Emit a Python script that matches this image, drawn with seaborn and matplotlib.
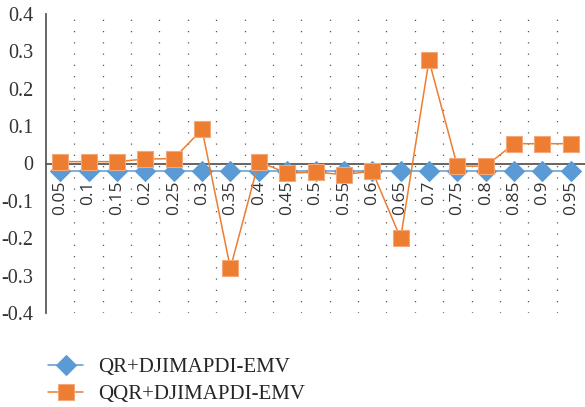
import matplotlib
matplotlib.use("Agg")
import matplotlib.pyplot as plt
import seaborn as sns
import numpy as np
import pandas as pd

# quantile levels (category labels)
quantiles = ["0.05", "0.1", "0.15", "0.2", "0.25", "0.3", "0.35", "0.4", "0.45", "0.5",
             "0.55", "0.6", "0.65", "0.7", "0.75", "0.8", "0.85", "0.9", "0.95"]
# series values
qr_vals = [-0.02, -0.02, -0.02, -0.02, -0.02, -0.02, -0.02, -0.02, -0.02, -0.02,
           -0.02, -0.02, -0.02, -0.02, -0.02, -0.02, -0.02, -0.02, -0.02]
qqr_vals = [0.005, 0.005, 0.005, 0.012, 0.013, 0.091, -0.28, 0.005, -0.026, -0.023,
            -0.03, -0.02, -0.2, 0.276, -0.007, -0.007, 0.053, 0.053, 0.053]
series_names = ["QR+DJIMAPDI-EMV", "QQR+DJIMAPDI-EMV"]

sns.set_style("white")
plt.rcParams['font.family'] = ['Liberation Serif', 'DejaVu Serif']

blue = "#5B9BD5"
orange = "#ED7D31"

fig = plt.figure(figsize=(5.85, 4.07), dpi=100)
ax = fig.add_axes([46 / 585, 1 - 313 / 407, 1 - 46 / 585, 299 / 407])

pos = np.arange(len(quantiles))
df = pd.DataFrame({"pos": pos, "qr": qr_vals, "qqr": qqr_vals})

sns.lineplot(data=df, x="pos", y="qr", ax=ax, color=blue, lw=1.1, marker="D",
             markersize=10, markeredgecolor=blue, label=series_names[0], zorder=3)
sns.lineplot(data=df, x="pos", y="qqr", ax=ax, color=orange, lw=1.1, marker="s",
             markersize=12, markeredgecolor="#F4A77A", markeredgewidth=0.8,
             label=series_names[1], zorder=4)

ax.set_xlim(-0.5, len(quantiles) - 0.5)
ax.set_ylim(-0.4, 0.4)
ax.set_xlabel("")
ax.set_ylabel("")

# y axis
yt = np.round(np.arange(-0.4, 0.41, 0.1), 1)
ax.set_yticks(yt)
ax.set_yticklabels(["0" if v == 0 else f"{v:g}" for v in yt], fontsize=14.5, color="#333333")
ax.tick_params(axis="y", length=0, pad=9)

# x axis drawn at zero
ax.spines["bottom"].set_position(("data", 0))
ax.spines["bottom"].set_color("#595959")
ax.spines["bottom"].set_linewidth(1.3)
ax.spines["left"].set_color("#595959")
ax.spines["left"].set_linewidth(1.3)
ax.spines["top"].set_visible(False)
ax.spines["right"].set_visible(False)
ax.set_xticks(pos)
ax.set_xticklabels(quantiles, rotation=90, fontsize=12.5, color="#333333",
                   family=["Open Sans", "DejaVu Sans"])
ax.tick_params(axis="x", length=0, pad=12)

# dotted vertical separators between categories
ax.set_xticks(pos[:-1] + 0.5, minor=True)
ax.tick_params(axis="x", which="minor", length=0)
ax.grid(True, axis="x", which="minor", color="#555555", linestyle=(0, (1, 8)), lw=0.9)
ax.grid(False, axis="y")
ax.set_axisbelow(True)

ax.get_legend().remove()
handles, labels = ax.get_legend_handles_labels()
fig.legend(handles, labels, loc="upper left", bbox_to_anchor=(40 / 585, 1 - 349 / 407),
           frameon=False, fontsize=15, handlelength=1.65, handletextpad=0.75,
           labelspacing=0.35, borderaxespad=0)

fig.savefig("out.png", dpi=100)
